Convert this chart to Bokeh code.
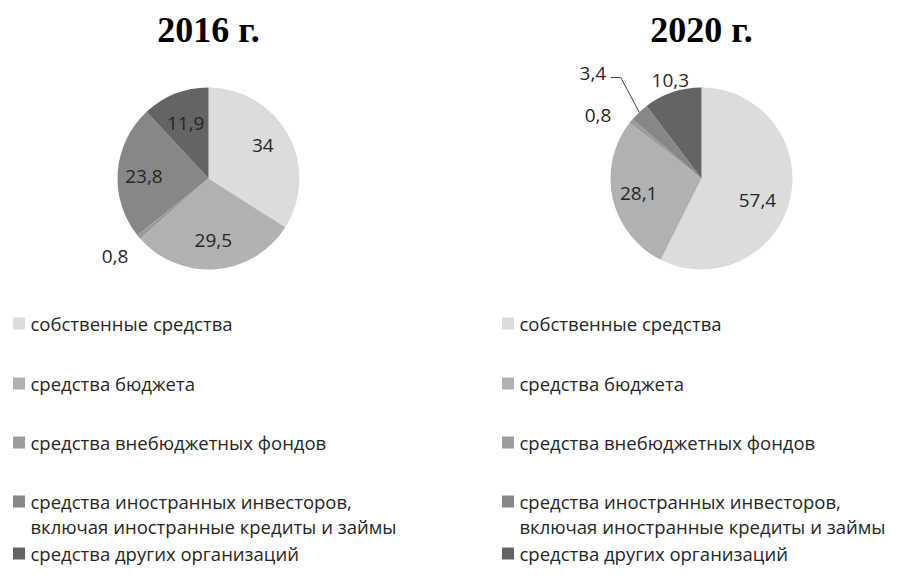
import numpy as np
from bokeh.plotting import figure
from bokeh.models import Range1d, ColumnDataSource
from bokeh.core.properties import value
from bokeh.embed import file_html
from bokeh.resources import INLINE

# ---------------- data ----------------
categories = [
    "собственные средства",
    "средства бюджета",
    "средства внебюджетных фондов",
    "средства иностранных инвесторов,\nвключая иностранные кредиты и займы",
    "средства других организаций",
]
years = ["2016 г.", "2020 г."]
values_2016 = [34, 29.5, 0.8, 23.8, 11.9]
values_2020 = [57.4, 28.1, 0.8, 3.4, 10.3]
labels_2016 = ["34", "29,5", "0,8", "23,8", "11,9"]
labels_2020 = ["57,4", "28,1", "0,8", "3,4", "10,3"]
colors = ["#dcdcdc", "#b1b1b1", "#9b9b9b", "#878787", "#646464"]

# ---------------- layout ----------------
W, H = 891, 566
R = 91
centers = [(208, 388), (701, 388)]          # figure pixel coords (y up)
title_pos = [(208, 537), (701, 537)]
# label placement (radius factor, angle nudge in degrees) per slice
label_rf = [[0.70, 0.68, 1.34, 0.71, 0.65],
            [0.66, 0.71, 1.33, 1.66, 1.13]]
label_nudge = [[-2.6, 0, 0, -2.7, -1.3],
               [8.0, -0.8, -8.0, -2.8, 0.9]]
leader_slice = (1, 3)  # pie index, slice index with leader line

legend_x = [18.5, 507.5]
legend_rows = [243, 183, 124, 65, 13]
line_gap = 25

FONT = "Open Sans"
TEXT_COLOR = "#262626"

p = figure(width=W, height=H, x_range=Range1d(0, W), y_range=Range1d(0, H),
           output_backend="svg", toolbar_location=None,
           x_axis_type=None, y_axis_type=None, min_border=0)
p.grid.visible = False
p.outline_line_color = None
p.background_fill_color = "white"

for k, vals in enumerate([values_2016, values_2020]):
    vals = np.array(vals, dtype=float)
    cx, cy = centers[k]
    cum = np.concatenate([[0], np.cumsum(vals)[:-1]])
    start = np.pi / 2 - 2 * np.pi * cum / 100.0
    end = np.pi / 2 - 2 * np.pi * (cum + vals) / 100.0
    src = ColumnDataSource(dict(start=start, end=end, color=colors))
    p.wedge(x=cx, y=cy, radius=R, start_angle="start", end_angle="end",
            direction="clock", fill_color="color", line_color=None, source=src)

    labels = [labels_2016, labels_2020][k]
    theta = np.radians(360.0 * (cum + vals / 2) / 100.0 + np.array(label_nudge[k]))
    rf = np.array(label_rf[k])
    lx = cx + rf * R * np.sin(theta)
    ly = cy + rf * R * np.cos(theta)
    p.text(x=lx, y=ly, text=labels, text_font=value(FONT), text_font_size="19px",
           text_color=TEXT_COLOR, text_align="center", text_baseline="middle")

    if k == leader_slice[0]:
        i = leader_slice[1]
        mid = np.radians(360.0 * (cum[i] + vals[i] / 2) / 100.0)
        ex, ey = cx + R * np.sin(mid), cy + R * np.cos(mid)
        bx, by = lx[i] + 28, ly[i] - 4
        p.line(x=[ex, bx, bx - 10], y=[ey, by, by], line_color="#404040", line_width=1)

    tx, ty = title_pos[k]
    p.text(x=[tx], y=[ty], text=[years[k]], text_font=value("Liberation Serif"),
           text_font_size="36px", text_font_style="bold", text_color="black",
           text_align="center", text_baseline="middle")

# legends
for lx0 in legend_x:
    for j, cat in enumerate(categories):
        y0 = legend_rows[j]
        p.rect(x=lx0, y=y0, width=12, height=12, fill_color=colors[j], line_color=None)
        for n, line in enumerate(cat.split("\n")):
            p.text(x=[lx0 + 11.5], y=[y0 - n * line_gap], text=[line],
                   text_font=value(FONT), text_font_size="18.5px",
                   text_color=TEXT_COLOR, text_align="left", text_baseline="middle")

open("out.html", "w").write(file_html(p, INLINE))
